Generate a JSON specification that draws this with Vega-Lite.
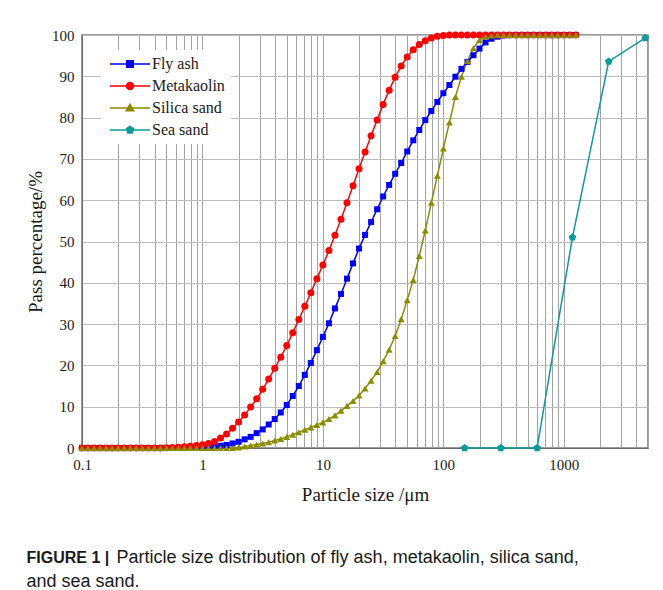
{
  "$schema": "https://vega.github.io/schema/vega-lite/v6.json",
  "width": 566,
  "height": 413,
  "autosize": {"type": "none"},
  "padding": {"left": 82, "top": 35, "right": 15, "bottom": 142},
  "background": "white",
  "config": {
    "font": "Liberation Serif",
    "view": {"stroke": "#7a7a7a", "strokeWidth": 1.5},
    "axis": {
      "labelFont": "Liberation Serif", "labelFontSize": 15, "labelColor": "#1a1a1a",
      "titleFont": "Liberation Serif", "titleFontSize": 19, "titleFontWeight": "normal", "titleColor": "#1a1a1a",
      "ticks": false, "domainColor": "#6a6a6a", "gridWidth": 1, "labelFlush": false
    }
  },
  "title": {
    "text": "FIGURE 1 |",
    "subtitle": ["\u200b\u00a0\u00a0\u00a0\u00a0\u00a0\u00a0\u00a0\u00a0\u00a0\u00a0\u00a0\u00a0\u00a0\u00a0\u00a0\u00a0\u00a0\u00a0Particle size distribution of fly ash, metakaolin, silica sand,", "and sea sand."],
    "orient": "bottom", "anchor": "start", "frame": "bounds", "offset": 46, "dx": 0,
    "font": "Liberation Sans", "fontSize": 16, "fontWeight": "bold", "color": "#1a1a1a",
    "subtitleFont": "Liberation Sans", "subtitleFontSize": 18, "subtitleColor": "#1a1a1a",
    "subtitleLineHeight": 24, "subtitlePadding": -17
  },
  "data": {"values": [
    {"s":"Fly ash","x":0.1,"y":0},{"s":"Fly ash","x":0.1122,"y":0},{"s":"Fly ash","x":0.1259,"y":0},{"s":"Fly ash","x":0.1413,"y":0},{"s":"Fly ash","x":0.1585,"y":0},{"s":"Fly ash","x":0.1778,"y":0},{"s":"Fly ash","x":0.1995,"y":0},{"s":"Fly ash","x":0.2239,"y":0},{"s":"Fly ash","x":0.2512,"y":0},{"s":"Fly ash","x":0.2818,"y":0},
    {"s":"Fly ash","x":0.3162,"y":0},{"s":"Fly ash","x":0.3548,"y":0},{"s":"Fly ash","x":0.3981,"y":0},{"s":"Fly ash","x":0.4467,"y":0},{"s":"Fly ash","x":0.5012,"y":0},{"s":"Fly ash","x":0.5623,"y":0},{"s":"Fly ash","x":0.631,"y":0},{"s":"Fly ash","x":0.7079,"y":0.02},{"s":"Fly ash","x":0.7943,"y":0.05},{"s":"Fly ash","x":0.8913,"y":0.1},
    {"s":"Fly ash","x":1,"y":0.2},{"s":"Fly ash","x":1.122,"y":0.3},{"s":"Fly ash","x":1.259,"y":0.4},{"s":"Fly ash","x":1.413,"y":0.55},{"s":"Fly ash","x":1.585,"y":0.75},{"s":"Fly ash","x":1.778,"y":1.1},{"s":"Fly ash","x":1.995,"y":1.5},{"s":"Fly ash","x":2.239,"y":2.1},{"s":"Fly ash","x":2.512,"y":2.7},{"s":"Fly ash","x":2.818,"y":3.6},
    {"s":"Fly ash","x":3.162,"y":4.5},{"s":"Fly ash","x":3.548,"y":5.7},{"s":"Fly ash","x":3.981,"y":7.0},{"s":"Fly ash","x":4.467,"y":8.6},{"s":"Fly ash","x":5.012,"y":10.4},{"s":"Fly ash","x":5.623,"y":12.6},{"s":"Fly ash","x":6.31,"y":15.0},{"s":"Fly ash","x":7.079,"y":17.7},{"s":"Fly ash","x":7.943,"y":20.6},{"s":"Fly ash","x":8.913,"y":23.7},
    {"s":"Fly ash","x":10,"y":26.9},{"s":"Fly ash","x":11.22,"y":30.2},{"s":"Fly ash","x":12.59,"y":33.8},{"s":"Fly ash","x":14.13,"y":37.3},{"s":"Fly ash","x":15.85,"y":41.0},{"s":"Fly ash","x":17.78,"y":44.7},{"s":"Fly ash","x":19.95,"y":48.3},{"s":"Fly ash","x":22.39,"y":51.6},{"s":"Fly ash","x":25.12,"y":54.7},{"s":"Fly ash","x":28.18,"y":57.8},
    {"s":"Fly ash","x":31.62,"y":60.9},{"s":"Fly ash","x":35.48,"y":63.7},{"s":"Fly ash","x":39.81,"y":66.4},{"s":"Fly ash","x":44.67,"y":69.0},{"s":"Fly ash","x":50.12,"y":71.8},{"s":"Fly ash","x":56.23,"y":74.5},{"s":"Fly ash","x":63.1,"y":77.0},{"s":"Fly ash","x":70.79,"y":79.4},{"s":"Fly ash","x":79.43,"y":81.6},{"s":"Fly ash","x":89.13,"y":83.8},
    {"s":"Fly ash","x":100,"y":85.9},{"s":"Fly ash","x":112.2,"y":87.9},{"s":"Fly ash","x":125.9,"y":89.9},{"s":"Fly ash","x":141.3,"y":91.8},{"s":"Fly ash","x":158.5,"y":93.5},{"s":"Fly ash","x":177.8,"y":95.1},{"s":"Fly ash","x":199.5,"y":96.7},{"s":"Fly ash","x":223.9,"y":98.2},{"s":"Fly ash","x":251.2,"y":99.1},{"s":"Fly ash","x":281.8,"y":99.6},
    {"s":"Fly ash","x":316.2,"y":99.9},{"s":"Fly ash","x":354.8,"y":100},{"s":"Fly ash","x":398.1,"y":100},{"s":"Fly ash","x":446.7,"y":100},{"s":"Fly ash","x":501.2,"y":100},{"s":"Fly ash","x":562.3,"y":100},{"s":"Fly ash","x":631,"y":100},{"s":"Fly ash","x":707.9,"y":100},{"s":"Fly ash","x":794.3,"y":100},{"s":"Fly ash","x":891.3,"y":100},
    {"s":"Fly ash","x":1000,"y":100},{"s":"Fly ash","x":1122,"y":100},{"s":"Fly ash","x":1259,"y":100},

    {"s":"Metakaolin","x":0.1,"y":0},{"s":"Metakaolin","x":0.1122,"y":0},{"s":"Metakaolin","x":0.1259,"y":0},{"s":"Metakaolin","x":0.1413,"y":0},{"s":"Metakaolin","x":0.1585,"y":0},{"s":"Metakaolin","x":0.1778,"y":0},{"s":"Metakaolin","x":0.1995,"y":0},{"s":"Metakaolin","x":0.2239,"y":0},{"s":"Metakaolin","x":0.2512,"y":0},{"s":"Metakaolin","x":0.2818,"y":0},
    {"s":"Metakaolin","x":0.3162,"y":0},{"s":"Metakaolin","x":0.3548,"y":0},{"s":"Metakaolin","x":0.3981,"y":0},{"s":"Metakaolin","x":0.4467,"y":0},{"s":"Metakaolin","x":0.5012,"y":0.05},{"s":"Metakaolin","x":0.5623,"y":0.1},{"s":"Metakaolin","x":0.631,"y":0.2},{"s":"Metakaolin","x":0.7079,"y":0.3},{"s":"Metakaolin","x":0.7943,"y":0.45},{"s":"Metakaolin","x":0.8913,"y":0.6},
    {"s":"Metakaolin","x":1,"y":0.8},{"s":"Metakaolin","x":1.122,"y":1.1},{"s":"Metakaolin","x":1.259,"y":1.6},{"s":"Metakaolin","x":1.413,"y":2.4},{"s":"Metakaolin","x":1.585,"y":3.4},{"s":"Metakaolin","x":1.778,"y":4.8},{"s":"Metakaolin","x":1.995,"y":6.3},{"s":"Metakaolin","x":2.239,"y":8.0},{"s":"Metakaolin","x":2.512,"y":9.9},{"s":"Metakaolin","x":2.818,"y":11.9},
    {"s":"Metakaolin","x":3.162,"y":14.2},{"s":"Metakaolin","x":3.548,"y":16.7},{"s":"Metakaolin","x":3.981,"y":19.3},{"s":"Metakaolin","x":4.467,"y":22.0},{"s":"Metakaolin","x":5.012,"y":24.8},{"s":"Metakaolin","x":5.623,"y":27.9},{"s":"Metakaolin","x":6.31,"y":31.1},{"s":"Metakaolin","x":7.079,"y":34.3},{"s":"Metakaolin","x":7.943,"y":37.6},{"s":"Metakaolin","x":8.913,"y":41.0},
    {"s":"Metakaolin","x":10,"y":44.3},{"s":"Metakaolin","x":11.22,"y":47.8},{"s":"Metakaolin","x":12.59,"y":51.5},{"s":"Metakaolin","x":14.13,"y":55.4},{"s":"Metakaolin","x":15.85,"y":59.4},{"s":"Metakaolin","x":17.78,"y":63.5},{"s":"Metakaolin","x":19.95,"y":67.6},{"s":"Metakaolin","x":22.39,"y":71.7},{"s":"Metakaolin","x":25.12,"y":75.6},{"s":"Metakaolin","x":28.18,"y":79.4},
    {"s":"Metakaolin","x":31.62,"y":83.2},{"s":"Metakaolin","x":35.48,"y":86.6},{"s":"Metakaolin","x":39.81,"y":89.8},{"s":"Metakaolin","x":44.67,"y":92.5},{"s":"Metakaolin","x":50.12,"y":94.7},{"s":"Metakaolin","x":56.23,"y":96.4},{"s":"Metakaolin","x":63.1,"y":97.7},{"s":"Metakaolin","x":70.79,"y":98.6},{"s":"Metakaolin","x":79.43,"y":99.3},{"s":"Metakaolin","x":89.13,"y":99.7},
    {"s":"Metakaolin","x":100,"y":99.9},{"s":"Metakaolin","x":112.2,"y":100},{"s":"Metakaolin","x":125.9,"y":100},{"s":"Metakaolin","x":141.3,"y":100},{"s":"Metakaolin","x":158.5,"y":100},{"s":"Metakaolin","x":177.8,"y":100},{"s":"Metakaolin","x":199.5,"y":100},{"s":"Metakaolin","x":223.9,"y":100},{"s":"Metakaolin","x":251.2,"y":100},{"s":"Metakaolin","x":281.8,"y":100},
    {"s":"Metakaolin","x":316.2,"y":100},{"s":"Metakaolin","x":354.8,"y":100},{"s":"Metakaolin","x":398.1,"y":100},{"s":"Metakaolin","x":446.7,"y":100},{"s":"Metakaolin","x":501.2,"y":100},{"s":"Metakaolin","x":562.3,"y":100},{"s":"Metakaolin","x":631,"y":100},{"s":"Metakaolin","x":707.9,"y":100},{"s":"Metakaolin","x":794.3,"y":100},{"s":"Metakaolin","x":891.3,"y":100},
    {"s":"Metakaolin","x":1000,"y":100},{"s":"Metakaolin","x":1122,"y":100},{"s":"Metakaolin","x":1259,"y":100},

    {"s":"Silica sand","x":0.1,"y":0},{"s":"Silica sand","x":0.1122,"y":0},{"s":"Silica sand","x":0.1259,"y":0},{"s":"Silica sand","x":0.1413,"y":0},{"s":"Silica sand","x":0.1585,"y":0},{"s":"Silica sand","x":0.1778,"y":0},{"s":"Silica sand","x":0.1995,"y":0},{"s":"Silica sand","x":0.2239,"y":0},{"s":"Silica sand","x":0.2512,"y":0},{"s":"Silica sand","x":0.2818,"y":0},
    {"s":"Silica sand","x":0.3162,"y":0},{"s":"Silica sand","x":0.3548,"y":0},{"s":"Silica sand","x":0.3981,"y":0},{"s":"Silica sand","x":0.4467,"y":0},{"s":"Silica sand","x":0.5012,"y":0},{"s":"Silica sand","x":0.5623,"y":0},{"s":"Silica sand","x":0.631,"y":0},{"s":"Silica sand","x":0.7079,"y":0},{"s":"Silica sand","x":0.7943,"y":0},{"s":"Silica sand","x":0.8913,"y":0},
    {"s":"Silica sand","x":1,"y":0},{"s":"Silica sand","x":1.122,"y":0},{"s":"Silica sand","x":1.259,"y":0},{"s":"Silica sand","x":1.413,"y":0},{"s":"Silica sand","x":1.585,"y":0},{"s":"Silica sand","x":1.778,"y":0},{"s":"Silica sand","x":1.995,"y":0.15},{"s":"Silica sand","x":2.239,"y":0.35},{"s":"Silica sand","x":2.512,"y":0.6},{"s":"Silica sand","x":2.818,"y":0.85},
    {"s":"Silica sand","x":3.162,"y":1.1},{"s":"Silica sand","x":3.548,"y":1.4},{"s":"Silica sand","x":3.981,"y":1.8},{"s":"Silica sand","x":4.467,"y":2.2},{"s":"Silica sand","x":5.012,"y":2.7},{"s":"Silica sand","x":5.623,"y":3.2},{"s":"Silica sand","x":6.31,"y":3.8},{"s":"Silica sand","x":7.079,"y":4.4},{"s":"Silica sand","x":7.943,"y":5.0},{"s":"Silica sand","x":8.913,"y":5.6},
    {"s":"Silica sand","x":10,"y":6.2},{"s":"Silica sand","x":11.22,"y":7.0},{"s":"Silica sand","x":12.59,"y":7.9},{"s":"Silica sand","x":14.13,"y":9.0},{"s":"Silica sand","x":15.85,"y":10.2},{"s":"Silica sand","x":17.78,"y":11.4},{"s":"Silica sand","x":19.95,"y":12.7},{"s":"Silica sand","x":22.39,"y":14.4},{"s":"Silica sand","x":25.12,"y":16.3},{"s":"Silica sand","x":28.18,"y":18.4},
    {"s":"Silica sand","x":31.62,"y":21.0},{"s":"Silica sand","x":35.48,"y":23.8},{"s":"Silica sand","x":39.81,"y":27.1},{"s":"Silica sand","x":44.67,"y":31.2},{"s":"Silica sand","x":50.12,"y":35.8},{"s":"Silica sand","x":56.23,"y":40.7},{"s":"Silica sand","x":63.1,"y":46.5},{"s":"Silica sand","x":70.79,"y":52.7},{"s":"Silica sand","x":79.43,"y":59.4},{"s":"Silica sand","x":89.13,"y":65.9},
    {"s":"Silica sand","x":100,"y":72.5},{"s":"Silica sand","x":112.2,"y":78.8},{"s":"Silica sand","x":125.9,"y":85.0},{"s":"Silica sand","x":141.3,"y":89.9},{"s":"Silica sand","x":158.5,"y":93.7},{"s":"Silica sand","x":177.8,"y":96.8},{"s":"Silica sand","x":199.5,"y":98.8},{"s":"Silica sand","x":223.9,"y":99.6},{"s":"Silica sand","x":251.2,"y":99.9},{"s":"Silica sand","x":281.8,"y":100},
    {"s":"Silica sand","x":316.2,"y":100},{"s":"Silica sand","x":354.8,"y":100},{"s":"Silica sand","x":398.1,"y":100},{"s":"Silica sand","x":446.7,"y":100},{"s":"Silica sand","x":501.2,"y":100},{"s":"Silica sand","x":562.3,"y":100},{"s":"Silica sand","x":631,"y":100},{"s":"Silica sand","x":707.9,"y":100},{"s":"Silica sand","x":794.3,"y":100},{"s":"Silica sand","x":891.3,"y":100},
    {"s":"Silica sand","x":1000,"y":100},{"s":"Silica sand","x":1122,"y":100},{"s":"Silica sand","x":1259,"y":100},

    {"s":"Sea sand","x":150,"y":0},{"s":"Sea sand","x":300,"y":0},{"s":"Sea sand","x":600,"y":0},{"s":"Sea sand","x":1180,"y":51},{"s":"Sea sand","x":2360,"y":93.6},{"s":"Sea sand","x":4750,"y":99.3}
  ]},
  "encoding": {
    "x": {
      "field": "x", "type": "quantitative",
      "scale": {"type": "log", "domain": [0.1, 5000], "nice": false},
      "axis": {
        "title": "Particle size /μm",
        "values": [0.1,0.2,0.3,0.4,0.5,0.6,0.7,0.8,0.9,1,2,3,4,5,6,7,8,9,10,20,30,40,50,60,70,80,90,100,200,300,400,500,600,700,800,900,1000,2000,3000,4000,5000],
        "format": "~g",
        "labelExpr": "indexof(['0.1','1','10','100','1000'], datum.label) >= 0 ? datum.label : ''",
        "labelOverlap": false, "gridColor": "#a3a3a3", "labelPadding": 9, "titlePadding": 13
      }
    },
    "y": {
      "field": "y", "type": "quantitative",
      "scale": {"domain": [0, 100], "nice": false},
      "axis": {
        "title": "Pass percentage/%",
        "values": [0,10,20,30,40,50,60,70,80,90,100],
        "gridColor": "#bdbdbd", "labelPadding": 8, "titlePadding": 6
      }
    },
    "color": {
      "field": "s", "type": "nominal",
      "scale": {"domain": ["Fly ash","Metakaolin","Silica sand","Sea sand"], "range": ["#0000ff","#ff0000","#8c8c00","#0c9a9a"]},
      "legend": {
        "title": null, "orient": "none", "legendX": 19, "legendY": 15,
        "padding": 6, "fillColor": "white",
        "labelFont": "Liberation Serif", "labelFontSize": 16, "labelColor": "#1a1a1a",
        "symbolSize": 100, "symbolOffset": 15, "labelOffset": 14, "rowPadding": 6,
        "symbolStrokeWidth": 1.5,
        "encode": {"symbols": {"update": {
          "shape": {"signal": "datum.value === 'Fly ash' ? 'M-4,0H4M-0.65,-0.65H0.65V0.65H-0.65Z' : datum.value === 'Metakaolin' ? 'M-4,0H4M0.7,0A0.7,0.7,0,1,1,-0.7,0A0.7,0.7,0,1,1,0.7,0Z' : datum.value === 'Silica sand' ? 'M-4,0H4M0,-0.75L0.75,0.55H-0.75Z' : 'M-4,0H4M0,-0.75L0.71,-0.23L0.44,0.61L-0.44,0.61L-0.71,-0.23Z'"},
          "fill": {"signal": "scale('color', datum.value)"},
          "stroke": {"signal": "scale('color', datum.value)"},
          "opacity": {"value": 1}
        }}}
      }
    }
  },
  "layer": [
    {"mark": {"type": "line", "strokeWidth": 1.5}},
    {"transform": [{"filter": "datum.s === 'Fly ash'"}], "mark": {"type": "point", "filled": true, "opacity": 1, "shape": "square", "size": 36}},
    {"transform": [{"filter": "datum.s === 'Metakaolin'"}], "mark": {"type": "point", "filled": true, "opacity": 1, "shape": "circle", "size": 49}},
    {"transform": [{"filter": "datum.s === 'Silica sand'"}], "mark": {"type": "point", "filled": true, "opacity": 1, "shape": "triangle-up", "size": 49}},
    {"transform": [{"filter": "datum.s === 'Sea sand'"}], "mark": {"type": "point", "filled": true, "opacity": 1, "shape": "M0,-1L0.95,-0.31L0.59,0.81L-0.59,0.81L-0.95,-0.31Z", "size": 64}}
  ]
}
